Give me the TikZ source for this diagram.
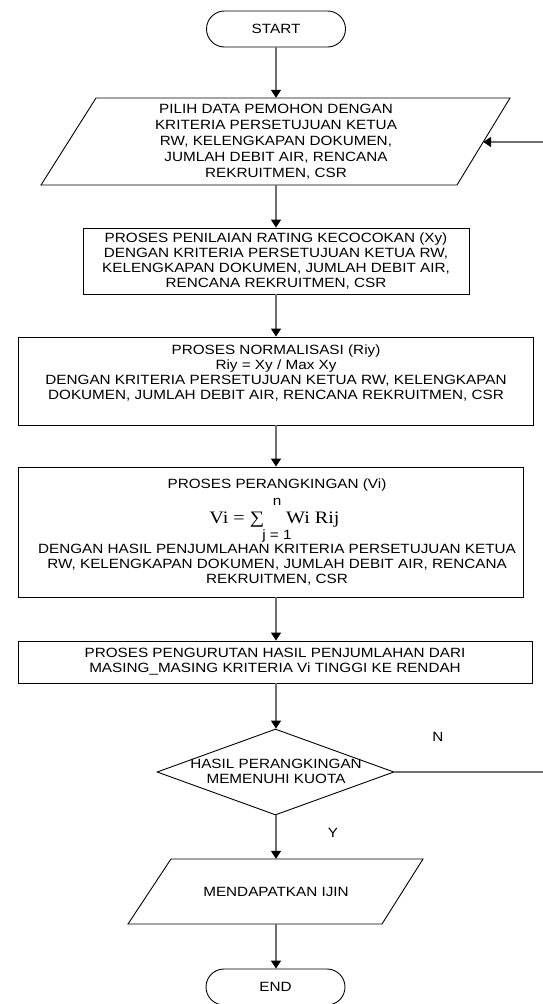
\documentclass[tikz,border=0pt]{standalone}
\usepackage{fontspec}
\setmainfont[FakeStretch=1.14]{Liberation Sans}
\newfontfamily\serifx[FakeStretch=1.15]{Liberation Serif}
\usetikzlibrary{arrows.meta,shapes.geometric,calc}
\definecolor{conncol}{HTML}{707070}
\begin{document}
\begin{tikzpicture}[x=1pt,y=-1pt,
  every node/.style={font=\fontsize{13.4}{15}\selectfont, align=center, inner sep=0pt},
  shp/.style={draw=black, line width=0.9pt},
  term/.style={shp, rectangle, rounded corners=18pt, minimum width=139pt, minimum height=36pt},
  procbox/.style={shp, rectangle},
  conn/.style={draw=conncol, line width=1.5pt},
  arr/.style={conn, -{Triangle[length=8pt,width=10pt,color=black]}}]
\useasboundingbox (0,0) rectangle (542,1004);
\fill[white] (0,0) rectangle (542,1004);

% START
\node[term] (start) at (276,29) {START};

% parallelogram 1
\draw[shp] (96,98) -- (510,98) -- (457,185) -- (41,185) -- cycle;
\node[minimum width=414pt, minimum height=87pt] (par1) at (276,141.5)
  {PILIH DATA PEMOHON DENGAN\\[1pt] KRITERIA PERSETUJUAN KETUA\\[1pt] RW, KELENGKAPAN DOKUMEN,\\[1pt] JUMLAH DEBIT AIR, RENCANA\\[1pt] REKRUITMEN, CSR};
\coordinate (fb) at (483.2,142);

% box 2
\node[procbox, minimum width=386pt, minimum height=66pt] (box2) at (276,261)
  {PROSES PENILAIAN RATING KECOCOKAN (Xy)\\ DENGAN KRITERIA PERSETUJUAN KETUA RW,\\ KELENGKAPAN DOKUMEN, JUMLAH DEBIT AIR,\\ RENCANA REKRUITMEN, CSR};

% box 3
\node[procbox, minimum width=515pt, minimum height=88pt] (box3) at (275.5,381) {};
\node (t3) at (276,373)
  {PROSES NORMALISASI (Riy)\\ Riy = Xy / Max Xy\\ DENGAN KRITERIA PERSETUJUAN KETUA RW, KELENGKAPAN\\ DOKUMEN, JUMLAH DEBIT AIR, RENCANA REKRUITMEN, CSR};

% box 4
\node[procbox, minimum width=505pt, minimum height=130pt] (box4) at (270.5,532) {};
\node (t4a) at (277,485) {PROSES PERANGKINGAN (Vi)};
\node (t4n) at (277,502) {n};
\node[font=\serifx\fontsize{17.5}{20}\selectfont] (t4f) at (274.5,520) {Vi = ∑\hspace{22pt}Wi Rij};
\node (t4j) at (277,536) {j = 1};
\node (t4b) at (277,564.5)
  {DENGAN HASIL PENJUMLAHAN KRITERIA PERSETUJUAN KETUA\\ RW, KELENGKAPAN DOKUMEN, JUMLAH DEBIT AIR, RENCANA\\ REKRUITMEN, CSR};

% box 5
\node[procbox, minimum width=514pt, minimum height=42pt] (box5) at (275,662)
  {PROSES PENGURUTAN HASIL PENJUMLAHAN DARI\\ MASING\_MASING KRITERIA Vi TINGGI KE RENDAH};

% decision
\node[shp, diamond, minimum width=237pt, minimum height=86pt] (dec) at (275.5,772) {};
\node (dect) at (276,771.5) {HASIL PERANGKINGAN\\ MEMENUHI KUOTA};
\node (lN) at (438,737) {N};
\node (lY) at (333,833) {Y};

% parallelogram 2
\draw[shp] (171,859) -- (423,859) -- (382,924) -- (128,924) -- cycle;
\node[minimum width=252pt, minimum height=65pt] (par2) at (276,891.5) {MENDAPATKAN IJIN};

% END
\node[term] (end) at (275.5,987) {END};

% connectors
\draw[arr] (start.south -| par1.north) -- (par1.north);
\draw[arr] (par1.south) -- (box2.north);
\draw[arr] (box2.south) -- (box2.south |- box3.north);
\draw[arr] (box2.south |- box3.south) -- (box2.south |- box4.north);
\draw[arr] (box2.south |- box4.south) -- (box2.south |- box5.north);
\draw[arr] (box2.south |- box5.south) -- (box2.south |- dec.north);
\draw[arr] (box2.south |- dec.south) -- (par2.north);
\draw[arr] (par2.south) -- (par2.south |- end.north);
\draw[arr] (dec.east) -- ++(152,0) |- (fb);
\end{tikzpicture}
\end{document}
